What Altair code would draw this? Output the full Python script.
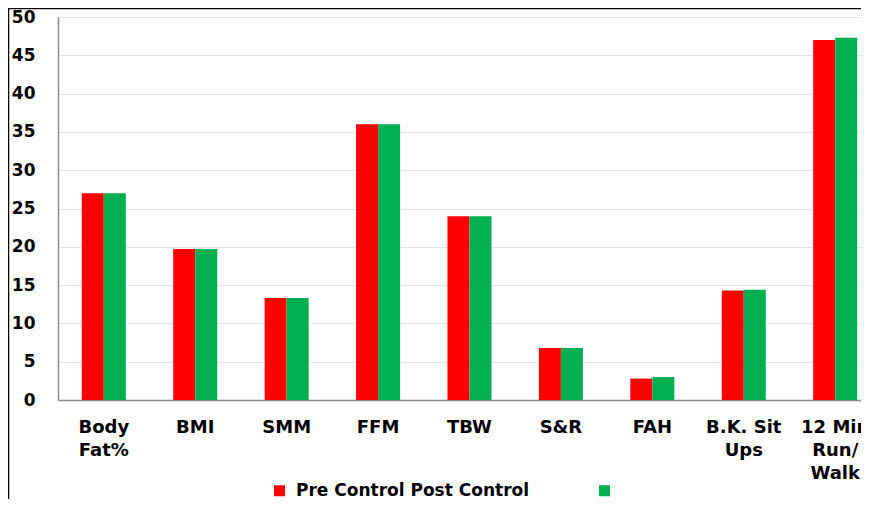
import altair as alt
import pandas as pd

categories = ["Body\nFat%", "BMI", "SMM", "FFM", "TBW", "S&R", "FAH", "B.K. Sit\nUps", "12 Min\nRun/\nWalk"]
series = ["Pre Control", "Post Control"]
pre_values = [27.0, 19.7, 13.3, 36.0, 24.0, 6.8, 2.8, 14.3, 47.0]
post_values = [27.0, 19.7, 13.3, 36.0, 24.0, 6.8, 3.0, 14.4, 47.3]
y_ticks = [0, 5, 10, 15, 20, 25, 30, 35, 40, 45, 50]
colors = ["#FF0000", "#00B050"]

rows = []
for c, a, b in zip(categories, pre_values, post_values):
    rows.append({"cat": c, "series": series[0], "value": a})
    rows.append({"cat": c, "series": series[1], "value": b})
df = pd.DataFrame(rows)

FONT = "DejaVu Sans"

bars = alt.Chart(df).mark_bar(size=22).encode(
    x=alt.X("cat:N", sort=categories, title=None,
            scale=alt.Scale(range=[0, 823], paddingInner=0.518, paddingOuter=0.26),
            axis=alt.Axis(labelAngle=0, labelExpr="split(datum.value, '\\n')",
                          labelFont=FONT, labelFontWeight="bold", labelFontSize=18,
                          labelColor="#000000", labelLineHeight=23, labelPadding=18,
                          ticks=False, domainColor="#8C8C8C", domainWidth=1.5,
                          labelBaseline="top")),
    xOffset=alt.XOffset("series:N", sort=series,
                        scale=alt.Scale(paddingInner=0, paddingOuter=0)),
    y=alt.Y("value:Q", title=None,
            scale=alt.Scale(domain=[0, 50], nice=False),
            axis=alt.Axis(values=y_ticks, labelFont=FONT, labelFontWeight="bold",
                          labelFontSize=17, labelColor="#000000", labelPadding=23,
                          ticks=False, domainColor="#8C8C8C", domainWidth=1.5,
                          gridColor="#E8E8E8", gridWidth=1)),
    color=alt.Color("series:N", sort=series,
                    scale=alt.Scale(domain=series, range=colors),
                    legend=alt.Legend(title=None, orient="none", direction="horizontal",
                                      legendX=213, legendY=465,
                                      symbolType="square", symbolSize=121,
                                      symbolStrokeWidth=0, symbolOpacity=1,
                                      labelFont=FONT, labelFontWeight="bold",
                                      labelFontSize=17, labelColor="#000000",
                                      columnPadding=66, labelOffset=8,
                                      labelLimit=400,
                                      labelExpr="datum.label == 'Pre Control' ? 'Pre Control Post Control' : ''")),
)

frame_top = alt.Chart(pd.DataFrame({"k": [0]})).mark_rule(color="#000000", strokeWidth=1.5).encode(
    x=alt.value(-50), x2=alt.value(900), y=alt.value(-8.5))
frame_left = alt.Chart(pd.DataFrame({"k": [0]})).mark_rule(color="#000000", strokeWidth=1.5).encode(
    x=alt.value(-49.5), y=alt.value(-9), y2=alt.value(500))

chart = alt.layer(bars, frame_top, frame_left).properties(
    width=803, height=383,
    autosize=alt.AutoSizeParams(type="none"),
    padding={"left": 50, "top": 9, "right": 0, "bottom": 99},
    background="#FFFFFF",
).configure_view(stroke=None)

chart.save("out.html", embed_options={"renderer": "svg", "actions": False})
